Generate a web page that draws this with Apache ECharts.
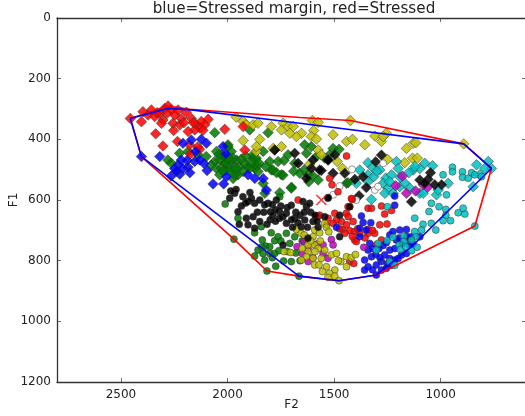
<!DOCTYPE html>
<html><head><meta charset="utf-8">
<script src="https://cdn.jsdelivr.net/npm/echarts@6/dist/echarts.min.js"></script>
<style>html,body{margin:0;padding:0;background:#fff;overflow:hidden}#c{width:525px;height:416px}</style>
</head><body><div id="c"></div>
<script>
const titleText='blue=Stressed margin, red=Stressed';
const xTicks=[1000,1500,2000,2500];
const yTicks=[0,200,400,600,800,1000,1200];
const redDiamonds=[[2456,331],[2404,342],[2397,309],[2373,320],[2357,303],[2342,325],[2318,314],[2295,298],[2279,290],[2263,303],[2303,336],[2310,347],[2248,320],[2232,303],[2217,331],[2193,311],[2256,347],[2224,352],[2170,331],[2146,352],[2123,341],[2091,334],[2107,352],[2130,363],[2154,369],[2185,374],[2013,367],[2337,382],[2253,371],[2235,407],[2303,422],[2178,418],[2131,433],[2174,448],[1919,435],[1927,358],[2140,425],[2330,312],[2285,315],[2205,345],[2160,345],[2115,370]];
const blueDiamonds=[[2404,457],[2318,457],[2209,413],[2170,402],[2123,400],[2099,413],[2217,468],[2232,484],[2248,496],[2264,521],[2224,515],[2177,510],[2154,473],[2131,468],[2185,492],[2209,496],[2096,503],[2068,547],[2018,547],[2005,523],[2021,424],[2008,448],[1904,517],[1872,529],[1833,529],[1818,567],[2190,470],[2150,440],[2240,505],[2110,480]];
const greenDiamonds=[[2060,378],[2280,468],[2264,479],[2225,446],[2185,440],[2139,451],[2100,457],[2052,440],[2029,451],[1998,418],[1982,440],[2060,473],[2037,468],[2076,485],[2052,496],[2013,479],[1982,473],[1958,468],[1943,490],[1974,496],[2005,501],[2037,517],[1974,529],[1951,517],[1927,506],[1904,490],[1896,369],[1865,462],[1833,440],[1880,451],[1872,496],[1802,473],[1763,473],[1794,501],[1747,517],[1716,451],[1661,512],[1700,558],[1755,576],[1833,545],[1825,578],[1778,435],[1810,378],[1787,501],[1740,518],[1701,561],[1638,418],[1630,446],[1622,517],[1575,534],[1505,430],[1521,451],[1442,545],[1544,462],[1685,479],[1998,424],[2013,457],[1974,462],[2006,479],[2029,495],[1990,501],[1920,479],[1967,517],[1880,462],[1865,484],[1896,495],[1857,506],[1607,424],[1583,457],[1477,433],[1619,540],[1435,543],[2040,450],[2020,505],[1995,462],[1960,495],[1935,465],[1915,455],[1890,475],[1850,480],[1820,490],[1770,510],[1735,470],[1690,505],[1640,500],[1600,520]];
const yellowDiamonds=[[1959,327],[1927,341],[1912,352],[1880,352],[1857,347],[1794,358],[1739,347],[1747,369],[1716,358],[1692,358],[1653,380],[1677,391],[1708,380],[1927,404],[1849,400],[1865,440],[1747,424],[1865,424],[1786,430],[1602,338],[1575,344],[1424,338],[1596,371],[1607,391],[1583,399],[1505,385],[1442,407],[1414,400],[1356,418],[1309,389],[1278,407],[1255,380],[1270,391],[1161,430],[1129,413],[1117,411],[892,415],[1575,435],[1560,451],[1615,482],[1486,473],[1461,496],[1250,466],[1169,477],[1132,462],[1110,462]];
const cyanDiamonds=[[1341,477],[1380,501],[1320,492],[1286,501],[1341,517],[1314,523],[1396,545],[1341,539],[1258,528],[1231,517],[1208,473],[1200,496],[1270,545],[1247,561],[1262,578],[1223,578],[1192,556],[1168,545],[1145,561],[1129,501],[1098,496],[1075,479],[1038,487],[1122,490],[1098,578],[1082,578],[1020,583],[1012,567],[965,545],[1325,598],[777,473],[762,496],[793,496],[848,556],[832,484],[816,517],[1240,540],[1190,525],[1300,505],[1150,510]];
const blackDiamonds=[[1278,452],[1305,474],[1364,523],[1403,532],[1349,559],[1383,586],[1137,606],[1098,534],[1048,510],[1059,532],[1028,550],[996,550],[1075,545],[1560,503],[1599,468],[1529,468],[1497,451],[1450,512],[1779,435],[1685,446],[1669,479],[1607,495],[1568,501],[1528,468],[1505,512],[1630,528]];
const magentaDiamonds=[[1180,521],[1211,553],[1161,578],[1118,570],[1082,550],[1062,558]];
const blackCircles=[[1990,594],[1967,578],[1928,589],[1904,605],[1873,611],[1951,639],[1912,660],[1904,682],[1873,693],[1849,671],[1799,639],[1787,650],[1756,639],[1724,644],[1810,611],[1771,600],[1701,617],[1646,605],[1630,622],[1685,660],[1638,666],[1654,688],[1740,748],[1623,726],[1544,655],[1529,594],[1474,650],[1474,721],[1599,671],[1740,655],[1724,677],[1756,660],[1849,600],[1826,616],[1888,594],[1528,592],[1427,622],[1615,611],[1960,565],[1985,570],[1895,575],[1915,610],[1790,615],[1775,632],[1750,620],[1720,625],[1680,640],[1660,650],[1700,665],[1610,640],[1590,650],[1575,690],[1625,690],[1800,665],[1830,640],[1945,680],[1880,655],[1935,620],[1860,640],[1815,680],[1775,670],[1695,690],[1670,675],[1640,640],[1580,670]];
const greenCircles=[[2011,613],[1951,660],[1873,708],[1842,688],[1970,729],[1837,732],[1795,708],[1779,734],[1821,752],[1857,765],[1834,776],[1873,785],[1802,776],[1826,798],[1774,818],[1737,801],[1701,803],[1815,834],[1665,851],[1763,721],[1724,710],[1685,721],[1755,589],[1802,754],[1779,776],[1708,743],[1759,767],[1840,755],[1790,790],[1750,735],[1720,770],[1680,775],[1650,735],[1660,800]];
const yellowCircles=[[1735,770],[1705,773],[1677,697],[1654,710],[1591,699],[1568,708],[1544,677],[1536,690],[1599,721],[1591,748],[1622,748],[1622,770],[1630,787],[1654,798],[1599,792],[1560,792],[1544,765],[1513,781],[1489,776],[1591,814],[1571,814],[1536,820],[1555,836],[1497,831],[1521,842],[1529,855],[1497,851],[1477,866],[1469,803],[1442,787],[1442,820],[1625,725],[1610,735],[1575,760],[1650,760],[1420,790],[1400,780],[1590,770],[1640,715],[1565,735],[1525,705],[1480,800]];
const magentaCircles=[[1674,754],[1643,737],[1649,776],[1622,803],[1552,776],[1513,730],[1505,748],[1552,748],[1529,792],[1623,760],[1361,756],[1580,745],[1600,790]];
const redCircles=[[1415,598],[1427,622],[1443,644],[1466,671],[1411,671],[1461,697],[1427,701],[1404,704],[1341,627],[1325,627],[1278,620],[1263,646],[1231,635],[1286,682],[1252,679],[1341,697],[1341,710],[1310,710],[1278,732],[1302,748],[1404,732],[1396,737],[1427,803],[1408,809],[1442,455],[1521,528],[1510,550],[1482,573],[1419,595],[1568,650],[1583,655],[1528,660],[1489,666],[1434,655],[1505,677],[1536,682],[1669,600],[1576,653],[1497,644],[1435,622],[1442,682],[1380,710],[1355,725],[1320,700],[1450,710],[1415,720],[1475,695],[1390,695]];
const blueCircles=[[1372,653],[1364,674],[1328,675],[1216,617],[1216,587],[1380,693],[1349,699],[1239,715],[1192,699],[1161,697],[1224,704],[1153,727],[1137,721],[1098,721],[1208,732],[1145,748],[1161,776],[1184,781],[1200,793],[1239,793],[1263,781],[1239,765],[1278,803],[1302,847],[1278,831],[1341,820],[1357,831],[1325,787],[1357,798],[1341,765],[1333,743],[1380,721],[1302,814],[1231,815],[1255,825],[1216,798],[1489,690],[1305,780],[1290,760],[1270,750],[1180,745],[1215,760],[1255,740],[1160,720],[1195,725],[1130,745],[1320,760],[1285,790],[1250,810],[1320,830]];
const cyanCircles=[[1250,622],[1044,611],[1008,622],[1055,638],[1122,660],[976,631],[976,650],[954,668],[989,668],[918,642],[887,646],[895,627],[1083,680],[1044,677],[1023,699],[1122,704],[1090,699],[1117,721],[1252,734],[1224,723],[1173,719],[1137,732],[1173,737],[1195,748],[1189,763],[1164,754],[1111,756],[1137,767],[1294,743],[1302,765],[1216,815],[1239,803],[840,686],[989,517],[945,492],[945,507],[898,507],[898,525],[871,528],[855,510],[840,517],[809,523],[973,583]];
const whiteCircles=[[1416,499],[1474,554],[1505,583],[1309,567],[1270,479],[1396,600],[1294,556]];
const crossPoint=[[1560,600]];
const redHull=[[2456,331],[2279,290],[2178,301],[1661,328],[1424,338],[892,415],[762,496],[840,686],[1302,847],[1477,866],[1665,851],[1815,834],[1970,729],[2404,457],[2456,331]];
const blueHull=[[2456,331],[2279,298],[2170,303],[1661,347],[892,415],[762,496],[1137,754],[1302,847],[1477,866],[1665,851],[2404,457],[2456,331]];

function pts(data,symbol,color,size){
  return {type:'scatter',data:data,symbol:symbol,symbolSize:size,silent:true,
    itemStyle:{color:color,borderColor:'#333',borderWidth:0.6,opacity:0.85}};
}
function hull(data,color){
  return {type:'line',data:data,showSymbol:false,silent:true,z:5,lineStyle:{color:color,width:1.6}};
}
const chart=echarts.init(document.getElementById('c'),null,{renderer:'canvas'});
const font='"DejaVu Sans"';
const plain=v=>String(v);
const inner={show:true,inside:true,length:4,lineStyle:{color:'#333',width:0.7}};
const spine={show:true,onZero:false,lineStyle:{color:'#333',width:1.3}};
function xAx(pos,labels){return {type:'value',min:600,max:2800,inverse:true,position:pos,splitLine:{show:false},
  axisLine:spine,axisTick:Object.assign({},inner,{customValues:xTicks}),
  axisLabel:labels?{show:true,customValues:xTicks,formatter:plain,color:'#222',fontFamily:font,fontSize:12,margin:7}:{show:false},
  name:labels?'F2':'',nameLocation:'middle',nameGap:17,nameMoveOverlap:false,nameTextStyle:{color:'#222',fontFamily:font,fontSize:12}};}
function yAx(pos,labels){return {type:'value',min:0,max:1200,inverse:true,position:pos,splitLine:{show:false},
  axisLine:spine,axisTick:Object.assign({},inner,{customValues:yTicks}),
  axisLabel:labels?{show:true,customValues:yTicks,formatter:plain,color:'#222',fontFamily:font,fontSize:12,margin:6}:{show:false},
  name:labels?'F1':'',nameLocation:'middle',nameGap:37,nameMoveOverlap:false,nameTextStyle:{color:'#222',fontFamily:font,fontSize:12}};}
chart.setOption({
  animation:false,backgroundColor:'#fff',
  title:{text:titleText,left:289,top:-3,textAlign:'center',textStyle:{fontFamily:font,fontWeight:'normal',fontSize:15.2,color:'#222'}},
  grid:{left:57,top:18,width:469,height:364,outerBoundsMode:'none'},
  xAxis:[xAx('bottom',true),xAx('top',false)],
  yAxis:[yAx('left',true),yAx('right',false)],
  series:[
    pts(greenDiamonds,'diamond','#007a00',10.5),
    pts(yellowDiamonds,'diamond','#bfbf00',10.5),
    pts(cyanDiamonds,'diamond','#00bfbf',10.5),
    pts(magentaDiamonds,'diamond','#bf00bf',10.5),
    pts(blackDiamonds,'diamond','#000',10.5),
    pts(redDiamonds,'diamond','#ff0000',10.5),
    pts(blueDiamonds,'diamond','#0000ff',10.5),
    pts(greenCircles,'circle','#007a00',7),
    pts(whiteCircles,'circle','#ffffff',7),
    pts(redCircles,'circle','#ff0000',7),
    pts(blueCircles,'circle','#0000ff',7),
    pts(cyanCircles,'circle','#00bfbf',7),
    pts(magentaCircles,'circle','#bf00bf',7),
    pts(yellowCircles,'circle','#bfbf00',7),
    pts(blackCircles,'circle','#000',7),
    {type:'scatter',data:crossPoint,symbol:'path://M0 0L10 10M10 0L0 10',symbolSize:10,silent:true,z:4,
      itemStyle:{color:'none',borderColor:'#ff0000',borderWidth:1.5}},
    hull(redHull,'#ff0000'),
    hull(blueHull,'#0000ff')
  ]
});
</script></body></html>
